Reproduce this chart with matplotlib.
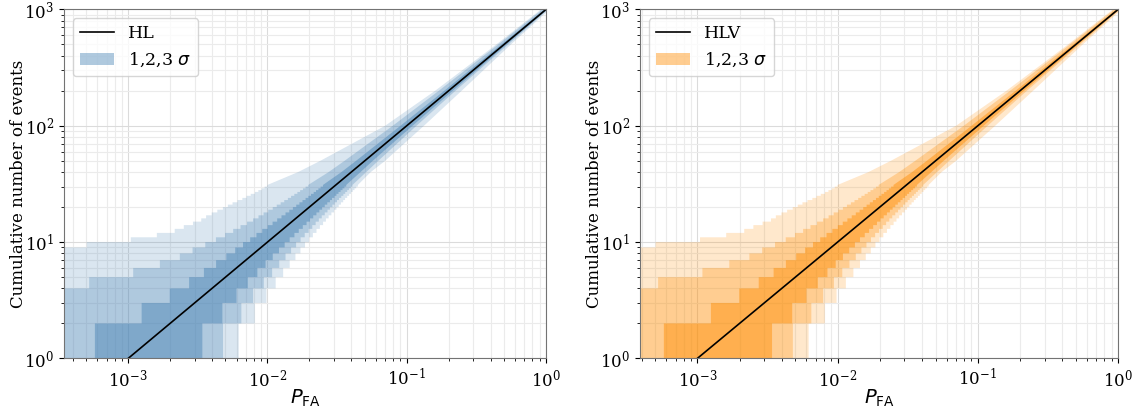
import matplotlib
matplotlib.use("Agg")
import matplotlib.pyplot as plt
from matplotlib.patches import Patch
import numpy as np

plt.rcParams["font.family"] = "DejaVu Serif"
plt.rcParams["mathtext.fontset"] = "dejavusans"
plt.rcParams["axes.unicode_minus"] = False

# expected line
line_x = [1e-3, 1.0]
line_y = [1, 1000]

# band steps: for each count level k (y from k to k+1), P_FA range covered
levels = list(range(1, 31))
# 1 sigma
lo_1s = [5.77e-4, 1.25e-3, 1.99e-3, 2.74e-3, 3.50e-3, 4.28e-3, 5.07e-3, 5.87e-3,
         6.68e-3, 7.52e-3, 8.34e-3, 9.18e-3, 1.005e-2, 1.089e-2, 1.175e-2,
         1.262e-2, 1.349e-2, 1.436e-2, 1.524e-2, 1.611e-2, 1.698e-2, 1.786e-2,
         1.879e-2, 1.968e-2, 2.056e-2, 2.148e-2, 2.234e-2, 2.323e-2, 2.41e-2, 2.506e-2]
hi_1s = [3.41e-3, 4.75e-3, 6.0e-3, 7.23e-3, 8.47e-3, 9.70e-3, 1.092e-2, 1.211e-2,
         1.33e-2, 1.445e-2, 1.563e-2, 1.679e-2, 1.795e-2, 1.91e-2, 2.02e-2,
         2.133e-2, 2.249e-2, 2.36e-2, 2.47e-2, 2.58e-2, 2.69e-2, 2.81e-2,
         2.91e-2, 3.03e-2, 3.13e-2, 3.24e-2, 3.35e-2, 3.46e-2, 3.57e-2, 3.68e-2]
# 2 sigma
lo_2s = [1e-4, 1e-4, 1e-4, 5.25e-4, 1.087e-3, 1.69e-3, 2.35e-3, 2.90e-3,
         3.58e-3, 4.27e-3, 4.97e-3, 5.68e-3, 6.41e-3, 7.14e-3, 7.89e-3,
         8.63e-3, 9.38e-3, 1.014e-2, 1.092e-2, 1.167e-2, 1.245e-2, 1.321e-2,
         1.403e-2, 1.479e-2, 1.56e-2, 1.641e-2, 1.718e-2, 1.80e-2, 1.879e-2, 1.963e-2]
hi_2s = [4.80e-3, 6.50e-3, 7.89e-3, 9.42e-3, 1.081e-2, 1.216e-2, 1.349e-2, 1.479e-2,
         1.607e-2, 1.730e-2, 1.853e-2, 1.977e-2, 2.10e-2, 2.22e-2, 2.34e-2,
         2.455e-2, 2.58e-2, 2.70e-2, 2.81e-2, 2.93e-2, 3.04e-2, 3.16e-2,
         3.27e-2, 3.39e-2, 3.51e-2, 3.62e-2, 3.74e-2, 3.85e-2, 3.97e-2, 4.08e-2]
# 3 sigma
lo_3s = [1e-4, 1e-4, 1e-4, 1e-4, 1e-4, 1e-4, 1e-4, 1e-4,
         5.04e-4, 1.045e-3, 1.607e-3, 2.16e-3, 2.51e-3, 2.92e-3, 3.35e-3,
         3.63e-3, 3.98e-3, 4.37e-3, 4.79e-3, 5.2e-3, 5.62e-3, 6.10e-3,
         6.61e-3, 7.08e-3, 7.59e-3, 8.13e-3, 8.61e-3, 9.12e-3, 9.55e-3, 1.0e-2]
hi_3s = [6.22e-3, 8.11e-3, 9.84e-3, 1.146e-2, 1.297e-2, 1.445e-2, 1.589e-2, 1.726e-2,
         1.862e-2, 1.991e-2, 2.12e-2, 2.25e-2, 2.38e-2, 2.51e-2, 2.63e-2,
         2.75e-2, 2.88e-2, 3.01e-2, 3.13e-2, 3.25e-2, 3.37e-2, 3.50e-2,
         3.61e-2, 3.74e-2, 3.86e-2, 3.98e-2, 4.10e-2, 4.22e-2, 4.34e-2, 4.46e-2]

# smoother upper part of the bands
tail_counts = [40, 50, 100, 200, 500, 1000]
tail_lo_1s = [3.40e-2, 4.33e-2, 9.02e-2, 0.186, 0.478, 0.973]
tail_hi_1s = [4.66e-2, 5.71e-2, 0.110, 0.214, 0.521, 1.023]
tail_lo_2s = [2.75e-2, 3.58e-2, 7.94e-2, 0.170, 0.454, 0.944]
tail_hi_2s = [5.12e-2, 6.25e-2, 0.1175, 0.224, 0.536, 1.035]
tail_lo_3s = [1.66e-2, 2.4e-2, 7.0e-2, 0.16, 0.44, 0.92]
tail_hi_3s = [5.52e-2, 7.0e-2, 0.133, 0.248, 0.56, 1.06]

bands = [
    (lo_3s, hi_3s, tail_lo_3s, tail_hi_3s, 0.2),
    (lo_2s, hi_2s, tail_lo_2s, tail_hi_2s, 0.2875),
    (lo_1s, hi_1s, tail_lo_1s, tail_hi_1s, 0.456),
]

panels = [
    ("HL", "steelblue", 3.46e-4),
    ("HLV", "darkorange", 3.9e-4),
]


def band_outline(lo, hi, tlo, thi):
    xs, ys = [], []
    for k, a in zip(levels, lo):
        xs += [a, a]
        ys += [k, k + 1]
    for c, a in zip(tail_counts, tlo):
        xs.append(a)
        ys.append(c)
    for c, b in reversed(list(zip(tail_counts, thi))):
        xs.append(b)
        ys.append(c)
    for k, b in reversed(list(zip(levels, hi))):
        xs += [b, b]
        ys += [k + 1, k]
    return xs, ys


fig = plt.figure(figsize=(11.4, 4.12), dpi=100)
rects = [[0.0561, 0.130, 0.4228, 0.847], [0.5614, 0.130, 0.4193, 0.847]]

for rect, (name, color, xmin) in zip(rects, panels):
    ax = fig.add_axes(rect)
    ax.set_xscale("log")
    ax.set_yscale("log")
    ax.set_axisbelow(True)
    for lo, hi, tlo, thi, alpha in bands:
        xs, ys = band_outline(lo, hi, tlo, thi)
        ax.fill(xs, ys, color=color, alpha=alpha, lw=0)
    ax.plot(line_x, line_y, color="black", lw=1.2)
    ax.set_xlim(xmin, 1)
    ax.set_ylim(1, 1000)
    ax.grid(which="major", color="0.86", lw=0.8)
    ax.grid(which="minor", color="0.92", lw=0.8)
    for sp in ax.spines.values():
        sp.set_color("0.45")
    ax.tick_params(labelsize=12)
    ax.set_xlabel(r"$P_{\mathrm{FA}}$", fontsize=14, labelpad=-2)
    ax.set_ylabel("Cumulative number of events", fontsize=12, labelpad=-2)
    handles = [plt.Line2D([], [], color="black", lw=1.2),
               Patch(facecolor=color, alpha=0.43, lw=0)]
    ax.legend(handles, [name, r"1,2,3 $\sigma$"], loc="upper left", fontsize=12.5)

fig.savefig("out.png", dpi=100)
